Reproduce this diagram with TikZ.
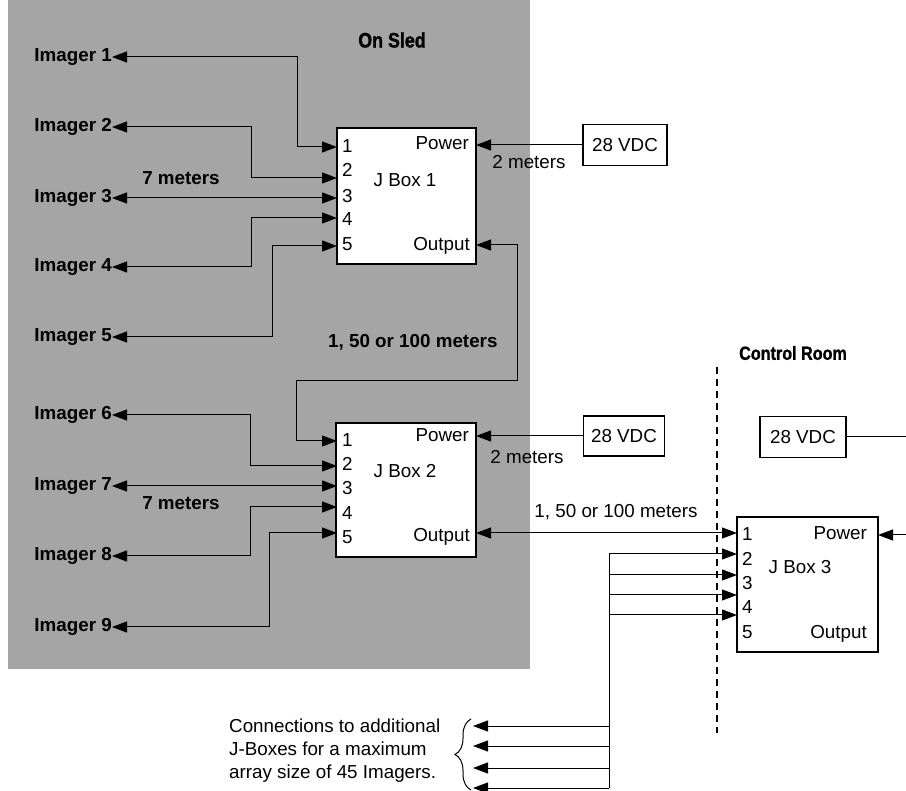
\documentclass[tikz,border=0pt]{standalone}
\usepackage{fontspec}
\setmainfont{Liberation Sans}
\newfontfamily\condfont[FakeStretch=0.85,FakeBold=1.2]{Liberation Sans Bold}
\usetikzlibrary{arrows.meta,decorations.pathreplacing}
\definecolor{sled}{RGB}{165,165,165}
\newcommand{\diagfs}{\fontsize{18.8}{23}\selectfont}
\begin{document}
\begin{tikzpicture}[x=1pt,y=-1pt,
  wire/.style={draw, line width=1pt},
  endarr/.style={-{Triangle[length=15pt,width=11pt]}},
  twoarr/.style={{Triangle[length=15pt,width=11pt]}-{Triangle[length=15pt,width=11pt]}},
  jbox/.style={draw, line width=1.5pt, fill=white, inner sep=0pt},
  vdcbox/.style={draw, line width=1.5pt, fill=white, inner sep=0pt, font=\diagfs},
  txt/.style={inner sep=0pt, font=\diagfs},
  btxt/.style={inner sep=0pt, font=\diagfs\bfseries},
  titletxt/.style={inner sep=0pt, font=\condfont\fontsize{19}{21}\selectfont}]
\useasboundingbox (0,0) rectangle (906,791);
\fill[sled] (8,0) rectangle (530,669);

% titles
\node[titletxt, font=\condfont\fontsize{21}{23}\selectfont] (onsled) at (392,40) {On Sled};
\node[titletxt] (ctrl) at (793,353) {Control Room};

% J Box 1
\node[jbox, minimum width=139pt, minimum height=136pt] (j1) at (406.5,196) {};
\node[txt] (j1name) at (405,180) {J Box 1};
\node[txt, anchor=east] (j1powlbl) at (469,143) {Power};
\node[txt, anchor=east] (j1outlbl) at (470,246) {Output};
\node[txt, anchor=west] (j1l1) at (342,146) {1};
\node[txt, anchor=west] (j1l2) at (342,170) {2};
\node[txt, anchor=west] (j1l3) at (342,196) {3};
\node[txt, anchor=west] (j1l4) at (342,219) {4};
\node[txt, anchor=west] (j1l5) at (342,244) {5};
\coordinate (j1in1) at (337,147);
\coordinate (j1in2) at (337,178);
\coordinate (j1in3) at (337,198);
\coordinate (j1in4) at (337,218);
\coordinate (j1in5) at (337,246);
\coordinate (j1pow) at (476,145);
\coordinate (j1out) at (476,245);

% J Box 2
\node[jbox, minimum width=140pt, minimum height=134pt] (j2) at (406,490) {};
\node[txt] (j2name) at (405,471) {J Box 2};
\node[txt, anchor=east] (j2powlbl) at (469,435) {Power};
\node[txt, anchor=east] (j2outlbl) at (470,537) {Output};
\node[txt, anchor=west] (j2l1) at (342,440) {1};
\node[txt, anchor=west] (j2l2) at (342,464) {2};
\node[txt, anchor=west] (j2l3) at (342,488) {3};
\node[txt, anchor=west] (j2l4) at (342,513) {4};
\node[txt, anchor=west] (j2l5) at (342,537) {5};
\coordinate (j2in1) at (337,441);
\coordinate (j2in2) at (337,466);
\coordinate (j2in3) at (337,486);
\coordinate (j2in4) at (337,507);
\coordinate (j2in5) at (337,533);
\coordinate (j2pow) at (476,436);
\coordinate (j2out) at (476,533);

% J Box 3
\node[jbox, minimum width=141pt, minimum height=135pt] (j3) at (807.5,584.5) {};
\node[txt] (j3name) at (800,567) {J Box 3};
\node[txt, anchor=east] (j3powlbl) at (867,533) {Power};
\node[txt, anchor=east] (j3outlbl) at (867,634) {Output};
\node[txt, anchor=west] (j3l1) at (742,534) {1};
\node[txt, anchor=west] (j3l2) at (742,559) {2};
\node[txt, anchor=west] (j3l3) at (742,583) {3};
\node[txt, anchor=west] (j3l4) at (742,607) {4};
\node[txt, anchor=west] (j3l5) at (742,632) {5};
\coordinate (j3in1) at (737,533);
\coordinate (j3in2) at (737,554);
\coordinate (j3in3) at (737,575);
\coordinate (j3in4) at (737,595);
\coordinate (j3in5) at (737,615);
\coordinate (j3pow) at (878,535);

% 28 VDC supplies
\node[vdcbox, minimum width=84pt, minimum height=41pt] (vdc1) at (625,145) {28 VDC};
\node[vdcbox, minimum width=81pt, minimum height=40pt] (vdc2) at (624,436) {28 VDC};
\node[vdcbox, minimum width=86pt, minimum height=41pt] (vdc3) at (803,437) {28 VDC};
\coordinate (edgeA) at (906,437);
\coordinate (edgeB) at (906,535);

% imagers
\node[btxt, anchor=east] (im1) at (112,57) {Imager 1};
\node[btxt, anchor=east] (im2) at (112,127) {Imager 2};
\node[btxt, anchor=east] (im3) at (112,198) {Imager 3};
\node[btxt, anchor=east] (im4) at (112,267) {Imager 4};
\node[btxt, anchor=east] (im5) at (112,337) {Imager 5};
\node[btxt, anchor=east] (im6) at (112,415) {Imager 6};
\node[btxt, anchor=east] (im7) at (112,486) {Imager 7};
\node[btxt, anchor=east] (im8) at (112,556) {Imager 8};
\node[btxt, anchor=east] (im9) at (112,627) {Imager 9};

% cable labels
\node[btxt] (m7a) at (181,178) {7 meters};
\node[btxt] (m7b) at (181,503) {7 meters};
\node[txt] (m2a) at (529,162) {2 meters};
\node[txt] (m2b) at (527,457) {2 meters};
\node[btxt, anchor=west] (mlong1) at (328,342) {1, 50 or 100 meters};
\node[txt] (mlong2) at (616,512) {1, 50 or 100 meters};

% imager wiring
\draw[wire,twoarr] (im1.east) -- (297,57) |- (j1in1);
\draw[wire,twoarr] (im2.east) -- (251,127) |- (j1in2);
\draw[wire,twoarr] (im3.east) -- (j1in3);
\draw[wire,twoarr] (im4.east) -- (251,267) |- (j1in4);
\draw[wire,twoarr] (im5.east) -- (272,337) |- (j1in5);
\draw[wire,twoarr] (im6.east) -- (250,415) |- (j2in2);
\draw[wire,twoarr] (im7.east) -- (j2in3);
\draw[wire,twoarr] (im8.east) -- (250,556) |- (j2in4);
\draw[wire,twoarr] (im9.east) -- (269,627) |- (j2in5);

% box to box
\draw[wire,twoarr] (j1out) -- (517,245) -- (517,381) -- (296,381) |- (j2in1);
\draw[wire,twoarr] (j2out) -- (j3in1);

% power
\draw[wire,endarr] (vdc1.west) -- (j1pow);
\draw[wire,endarr] (vdc2.west) -- (j2pow);
\draw[wire] (vdc3.east) -- (edgeA);
\draw[wire,endarr] (edgeB) -- (j3pow);

% control room boundary
\coordinate (dtop) at (717,367);
\coordinate (dbot) at (717,733);
\draw[line width=1.5pt, dash pattern=on 7pt off 5pt] (dtop) -- (dbot);

% fan-out to J Box 3 and additional J-Boxes
\coordinate (bus2) at (609,554);
\coordinate (bus3) at (609,575);
\coordinate (bus4) at (609,595);
\coordinate (bus5) at (609,615);
\coordinate (busB) at (609,788);
\draw[wire] (bus2) -- (busB);
\draw[wire,endarr] (bus2) -- (j3in2);
\draw[wire,endarr] (bus3) -- (j3in3);
\draw[wire,endarr] (bus4) -- (j3in4);
\draw[wire,endarr] (bus5) -- (j3in5);
\coordinate (c1) at (609,726);
\coordinate (c2) at (609,746);
\coordinate (c3) at (609,768);
\coordinate (c4) at (609,788);
\coordinate (x1) at (473,726);
\coordinate (x2) at (473,746);
\coordinate (x3) at (473,768);
\coordinate (x4) at (473,788);
\draw[wire,endarr] (c1) -- (x1);
\draw[wire,endarr] (c2) -- (x2);
\draw[wire,endarr] (c3) -- (x3);
\draw[wire,endarr] (c4) -- (x4);

% brace and note
\coordinate (brB) at (471,790);
\coordinate (brT) at (471,719);
\draw[line width=1pt, decorate, decoration={brace, amplitude=16pt}] (brB) -- (brT);
\node[txt, anchor=base west] (conn1) at (229,732) {Connections to additional};
\node[txt, anchor=base west] (conn2) at (229,755) {J-Boxes for a maximum};
\node[txt, anchor=base west] (conn3) at (229,778) {array size of 45 Imagers.};
\end{tikzpicture}
\end{document}
